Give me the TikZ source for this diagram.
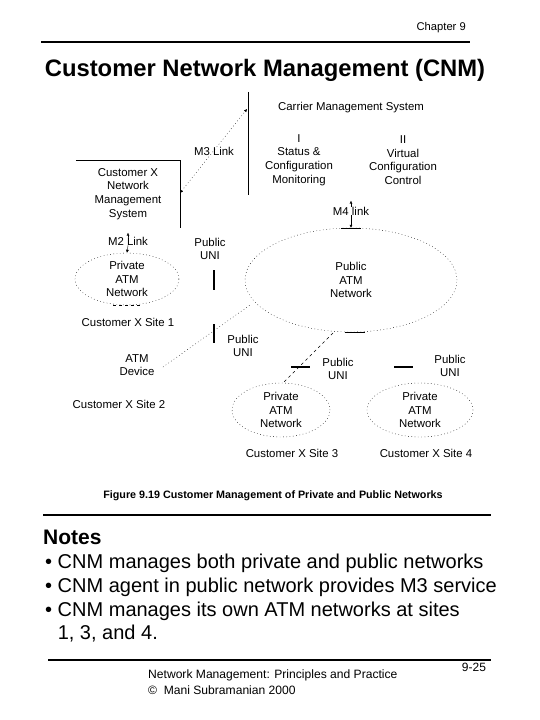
\documentclass[tikz,border=0pt]{standalone}
\usepackage{fontspec}
\setmainfont{Liberation Sans}
\usetikzlibrary{shapes.geometric,arrows.meta}
\begin{document}
\begin{tikzpicture}[x=1pt,y=-1pt,
  dots/.style={dash pattern=on 0.7pt off 2.6pt},
  lbl/.style={font=\fontsize{11.4}{13.7}\selectfont, align=center, inner sep=0pt},
  net/.style={ellipse, draw, dots, inner sep=0pt, font=\fontsize{11.4}{13.7}\selectfont, align=center},
  rule/.style={line width=1.6pt},
  bar/.style={line width=2.2pt},
  tip/.style={-{Latex[length=3pt,width=3pt]}}
]
\useasboundingbox (0,0) rectangle (540,720);
% header
\node[anchor=east, font=\fontsize{11.2}{13}\selectfont, inner sep=0pt] (chap) at (466,28) {Chapter 9};
\draw[rule] (41,42) coordinate (r1a) -- (470,42) coordinate (r1b);
\node[font=\bfseries\fontsize{23.8}{27}\selectfont] (title) at (265,70) {Customer Network Management (CNM)};

% carrier management system
\node[minimum width=222, minimum height=103, inner sep=0pt] (cms) at (359,143.5) {};
\draw (cms.north west) -- (cms.south west);
\node[lbl] (cmst) at (351,108) {Carrier Management System};
\node[lbl] (cms1) at (299,160) {I\\Status \&\\Configuration\\Monitoring};
\node[lbl] (cms2) at (403,160) {II\\Virtual\\Configuration\\Control};

% customer X NMS
\node[lbl, minimum width=104, minimum height=68] (cust) at (128,194) {Customer X\\Network\\Management\\System};
\draw (cust.north west) -- (cust.north east) -- (cust.south east);

% M3 link
\coordinate (m3a) at (180,193);
\coordinate (m3b) at (247,109);
\draw[dots, {Latex[length=3pt,width=3pt]}-{Latex[length=3pt,width=3pt]}] (m3a) -- (m3b);
\node[lbl] (m3) at (214,151) {M3 Link};

% M2 link
\node[lbl] (m2) at (128,241) {M2 Link};

% Site 1
\node[net, minimum width=104, minimum height=52] (p1) at (127,279) {Private\\ATM\\Network};
\draw[tip] (m2.north) -- ++(0,-4);
\draw[tip] (m2.south) -- (p1.north);
\draw[dashed] (p1.south) ++(-14,0) -- ++(28,0);
\node[lbl] (s1) at (128,322) {Customer X Site 1};
\node[lbl] (uni1) at (210,249) {Public\\UNI};
\draw[bar] (214,270) coordinate (b1a) -- (214,290) coordinate (b1b);

% Public ATM network
\node[net, minimum width=212, minimum height=104] (pub) at (351,280) {Public\\ATM\\Network};
\node[lbl] (m4) at (351,211) {M4 link};
\draw[tip] (m4.north) -- ++(0,-6);
\draw (pub.north) ++(-10,0) -- ++(20,0);
\draw[tip] (m4.south) -- (pub.north);
\draw (pub.south) ++(-6,0) -- ++(20,0);

% Site 2
\node[lbl] (atm) at (137,365) {ATM\\Device};
\node[lbl] (s2) at (119,404) {Customer X Site 2};
\coordinate (pubsw) at (250,305);
\draw[dots] (163,367) coordinate (atmc) -- (pubsw);
\draw[bar] (214,324) coordinate (b2a) -- (214,343) coordinate (b2b);
\node[lbl] (uni2) at (243,346) {Public\\UNI};

% Site 3
\node[net, minimum width=98, minimum height=54] (p3) at (281,410) {Private\\ATM\\Network};
\draw[dashed] (333,333) coordinate (pubs) -- (283,383);
\draw[bar] (291,367) coordinate (b3a) -- (310,367) coordinate (b3b);
\node[lbl] (uni3) at (338,369) {Public\\UNI};
\node[lbl] (s3) at (292,453) {Customer X Site 3};

% Site 4
\node[net, minimum width=106, minimum height=54] (p4) at (420,410) {Private\\ATM\\Network};
\draw[bar] (394,367) coordinate (b4a) -- (413,367) coordinate (b4b);
\node[lbl] (uni4) at (450,366) {Public\\UNI};
\node[lbl] (s4) at (426,453) {Customer X Site 4};

% caption
\node[font=\bfseries\fontsize{10.75}{12}\selectfont] (cap) at (273,496) {Figure 9.19 Customer Management of Private and Public Networks};
\draw[rule] (43,515) coordinate (r2a) -- (491,515) coordinate (r2b);

% notes
\node[anchor=west, font=\bfseries\fontsize{21}{25}\selectfont, inner sep=0pt] (notes) at (43,537) {Notes};
\node[anchor=north west, font=\fontsize{20}{23.7}\selectfont, align=left, inner sep=0pt] (bul) at (45,554)
{• CNM manages both private and public networks\\
• CNM agent in public network provides M3 service\\
• CNM manages its own ATM networks at sites\\
\hphantom{• }1, 3, and 4.};
\draw[rule] (48,660) coordinate (r3a) -- (491,660) coordinate (r3b);

% footer
\node[anchor=north west, font=\fontsize{12.1}{16}\selectfont, align=left, inner sep=0pt] (foot) at (148,670)
{Network Management: Principles and Practice\\© \ Mani Subramanian 2000};
\node[font=\fontsize{12}{14}\selectfont] (pg) at (474,667) {9-25};
\end{tikzpicture}
\end{document}
